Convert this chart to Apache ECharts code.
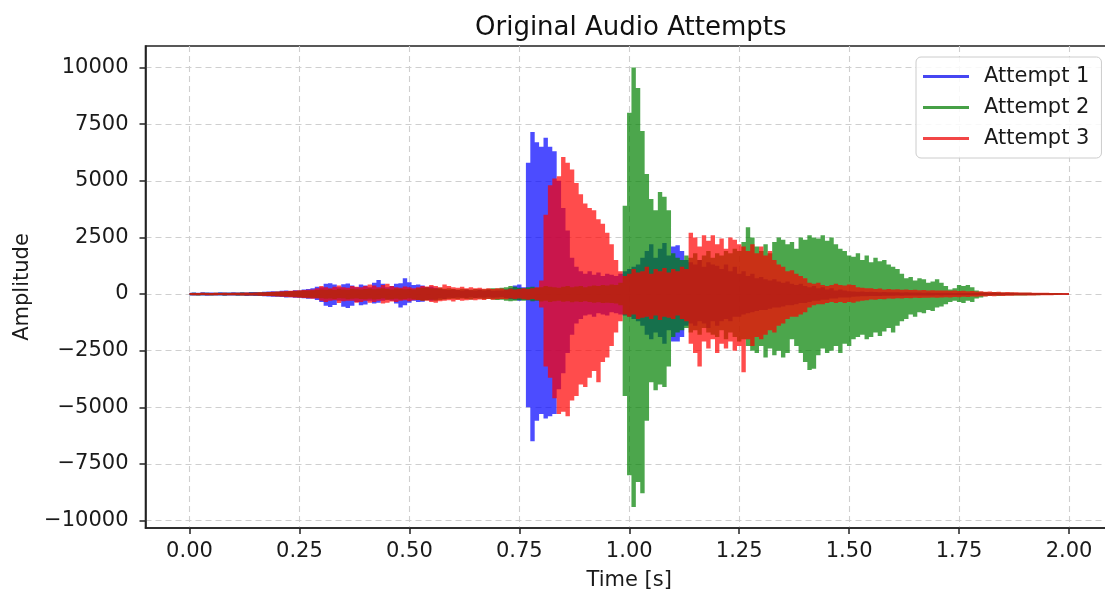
<!DOCTYPE html>
<html>
<head>
<meta charset="utf-8">
<title>Original Audio Attempts</title>
<script src="https://cdn.jsdelivr.net/npm/echarts@6/dist/echarts.min.js"></script>
<style>
  html, body { margin: 0; padding: 0; background: #ffffff; }
  #chart { width: 1105px; height: 594px; }
</style>
</head>
<body>
<div id="chart"></div>
<script>
// Amplitude envelopes sampled every 10 ms from 0.00 s to 2.00 s (201 bins).
const timeStep = 0.01;
const seriesNames = ['Attempt 1', 'Attempt 2', 'Attempt 3'];
const xTicks = [0, 0.25, 0.5, 0.75, 1, 1.25, 1.5, 1.75, 2];
const yTicks = [-10000, -7500, -5000, -2500, 0, 2500, 5000, 7500, 10000];

const attempt1High = [
  60, 70, 60, 75, 65, 70, 60, 80, 70, 65,
  75, 70, 80, 70, 85, 90, 80, 100, 110, 120,
  110, 140, 150, 130, 170, 160, 200, 220, 250, 320,
  300, 450, 480, 420, 300, 430, 460, 380, 300, 420,
  380, 300, 500, 620, 450, 300, 350, 450, 480, 700,
  520, 400, 420, 380, 300, 330, 280, 220, 200, 180,
  200, 180, 150, 200, 170, 160, 200, 150, 180, 140,
  160, 150, 200, 250, 380, 420, 300, 5800, 7150, 6700,
  6500, 6900, 6500, 6300, 5000, 3800, 2800, 1600, 1200, 1000,
  900, 1000, 850, 950, 800, 900, 850, 800, 900, 1000,
  1100, 1200, 1300, 1600, 1900, 2200, 1600, 2000, 2250, 1700,
  2100, 2150, 1900, 1500, 1400, 1300, 1500, 1200, 1400, 1300,
  1250, 1100, 1300, 1000, 1200, 900, 1000, 800, 900, 700,
  750, 650, 600, 650, 550, 500, 550, 450, 400, 450,
  350, 300, 350, 250, 300, 200, 250, 150, 200, 150,
  120, 110, 100, 110, 90, 100, 90, 80, 90, 80,
  75, 80, 70, 75, 70, 65, 70, 60, 65, 60,
  60, 55, 60, 55, 50, 55, 50, 50, 45, 50,
  45, 45, 40, 45, 40, 40, 35, 40, 35, 35,
  35, 30, 35, 30, 30, 30, 25, 30, 25, 25,
  20
];
const attempt1Low = [
  -60, -65, -70, -60, -75, -65, -70, -60, -75, -70,
  -70, -80, -70, -85, -75, -90, -85, -100, -110, -115,
  -120, -130, -150, -140, -160, -170, -190, -210, -200, -260,
  -350, -520, -570, -480, -300, -560, -620, -520, -350, -500,
  -460, -300, -420, -380, -300, -250, -300, -420, -600, -500,
  -380, -300, -350, -340, -260, -300, -250, -200, -220, -160,
  -180, -150, -170, -180, -140, -180, -150, -170, -140, -160,
  -150, -130, -180, -230, -250, -300, -250, -5000, -6500, -5600,
  -5300, -5500, -5400, -5300, -4200, -3500, -2600, -1800, -1300, -1100,
  -950, -900, -1000, -850, -900, -950, -800, -850, -900, -950,
  -1000, -1100, -1200, -1400, -1800, -2000, -1700, -1900, -2200, -1600,
  -2100, -2100, -1900, -1400, -1300, -1400, -1200, -1300, -1500, -1200,
  -1400, -1200, -1100, -1200, -1000, -1000, -900, -850, -800, -750,
  -700, -700, -650, -600, -600, -550, -500, -500, -450, -400,
  -400, -350, -300, -300, -250, -250, -200, -200, -150, -150,
  -150, -120, -110, -100, -100, -90, -90, -85, -80, -80,
  -75, -70, -75, -70, -65, -70, -60, -65, -60, -60,
  -55, -60, -55, -50, -55, -50, -50, -45, -50, -45,
  -45, -40, -45, -40, -40, -35, -40, -35, -35, -35,
  -30, -35, -30, -30, -30, -25, -30, -25, -25, -25,
  -20
];

const attempt2High = [
  50, 55, 50, 60, 55, 50, 60, 55, 60, 55,
  60, 55, 65, 60, 70, 65, 75, 80, 85, 90,
  95, 100, 110, 120, 130, 140, 150, 160, 170, 180,
  200, 190, 210, 180, 220, 200, 190, 230, 210, 200,
  220, 240, 210, 230, 250, 220, 200, 240, 230, 210,
  220, 200, 250, 280, 300, 260, 240, 280, 230, 250,
  220, 200, 230, 210, 190, 220, 200, 210, 230, 250,
  240, 280, 300, 350, 320, 280, 250, 300, 320, 280,
  300, 350, 320, 300, 280, 320, 350, 300, 330, 350,
  300, 340, 380, 350, 400, 380, 420, 400, 500, 3900,
  8000, 10000, 9100, 7200, 5300, 4200, 3700, 4500, 4300, 3700,
  1800, 1600, 1500, 1700, 1600, 1800, 1500, 1700, 1900, 1600,
  1800, 1700, 1900, 1800, 2000, 1900, 2300, 2950, 2500, 2100,
  1900, 2200, 1800, 2300, 2500, 2400, 2200, 2300, 2000, 2500,
  2400, 2600, 2500, 2450, 2600, 2350, 2500, 2200, 2000, 1900,
  1700, 1650, 1800, 1500, 1700, 1400, 1600, 1450, 1500, 1300,
  1200, 1100, 900, 700, 750, 600, 700, 650, 500, 550,
  650, 500, 350, 200, 250, 400, 350, 400, 300, 150,
  100, 90, 80, 85, 75, 70, 65, 70, 60, 60,
  55, 55, 50, 50, 45, 45, 40, 40, 40, 35,
  30
];
const attempt2Low = [
  -50, -55, -60, -50, -55, -60, -55, -50, -60, -55,
  -55, -60, -60, -65, -65, -70, -75, -80, -85, -90,
  -95, -100, -110, -120, -130, -140, -150, -160, -170, -180,
  -190, -210, -200, -220, -190, -200, -230, -210, -200, -220,
  -230, -210, -240, -220, -200, -250, -230, -210, -240, -220,
  -200, -230, -260, -300, -280, -250, -300, -260, -240, -220,
  -210, -230, -200, -220, -240, -200, -210, -230, -220, -240,
  -260, -250, -300, -320, -300, -270, -300, -280, -320, -300,
  -330, -300, -350, -320, -300, -340, -320, -360, -330, -350,
  -320, -350, -380, -360, -400, -380, -400, -420, -500, -4500,
  -8000, -9400, -8300, -8800, -5600, -3900, -4250, -4000, -4100, -3200,
  -1900, -1700, -1600, -1500, -1700, -1600, -1800, -1500, -1700, -1800,
  -1900, -1600, -2000, -1700, -1900, -2100, -2000, -2300, -2500, -2600,
  -2300, -2800, -2400, -2700, -2500, -2800, -2600, -2000, -2300, -2600,
  -3000, -3350, -3300, -2700, -2400, -2600, -2500, -2300, -2600, -2200,
  -2300, -2000, -1900, -1800, -2000, -1900, -1700, -1850, -1650, -1500,
  -1700, -1400, -1200, -1100, -900, -1000, -800, -850, -700, -750,
  -600, -550, -450, -350, -300, -350, -400, -300, -350, -200,
  -150, -100, -90, -80, -85, -75, -70, -65, -70, -60,
  -60, -55, -50, -50, -45, -45, -40, -40, -35, -35,
  -30
];

const attempt3High = [
  45, 50, 45, 55, 50, 45, 55, 50, 55, 50,
  55, 60, 55, 65, 60, 70, 75, 80, 90, 100,
  110, 120, 130, 140, 150, 170, 180, 190, 200, 250,
  350, 300, 250, 320, 380, 300, 280, 350, 320, 300,
  350, 420, 380, 300, 400, 450, 350, 300, 280, 330,
  300, 260, 300, 350, 330, 400, 350, 300, 420, 350,
  300, 280, 320, 260, 300, 250, 280, 230, 250, 220,
  260, 240, 200, 230, 200, 220, 250, 220, 250, 300,
  600, 3500, 4800, 5100, 5200, 6050, 5800, 5500, 4900, 4400,
  4000, 3800, 3700, 3300, 3100, 2700, 2200, 1500, 1000, 800,
  900, 1100, 950, 1000, 1200, 900, 1100, 1000, 1150, 950,
  1100, 1000, 1200, 1100, 2700, 2500, 2100, 2600, 2350, 2600,
  2200, 2450, 2000, 2500, 2400, 2200, 2100, 1900, 2200, 1800,
  2100, 1700, 1900, 1500, 1300, 1200, 1000, 1050, 900, 800,
  700, 500, 450, 500, 400, 350, 400, 450, 400, 380,
  420, 400, 300, 280, 250, 260, 220, 240, 200, 220,
  200, 210, 190, 200, 180, 190, 170, 180, 160, 170,
  150, 160, 150, 140, 150, 130, 140, 120, 130, 110,
  120, 100, 110, 90, 100, 80, 90, 75, 80, 70,
  70, 65, 60, 60, 55, 55, 50, 50, 45, 45,
  40
];
const attempt3Low = [
  -45, -50, -55, -45, -50, -55, -50, -45, -55, -50,
  -55, -55, -60, -60, -65, -70, -75, -85, -90, -100,
  -110, -120, -130, -140, -150, -160, -180, -190, -210, -200,
  -300, -350, -300, -280, -400, -320, -300, -300, -380, -350,
  -300, -380, -350, -300, -420, -380, -330, -350, -300, -280,
  -320, -280, -260, -300, -300, -350, -380, -320, -300, -280,
  -330, -260, -300, -280, -250, -280, -240, -260, -220, -250,
  -230, -220, -230, -200, -220, -200, -230, -250, -220, -280,
  -600, -3200, -3700, -4600, -5300, -5200, -5400, -4700, -4500, -4000,
  -4100, -3700, -3400, -3900, -3000, -2800, -2300, -1700, -1200, -900,
  -1000, -900, -1100, -1050, -1000, -1100, -950, -1150, -1000, -1050,
  -1100, -950, -1100, -1200, -2200, -2600, -3200, -2100, -2400, -2000,
  -2600, -2200, -2400, -2100, -2500, -2300, -3450, -2000, -2300, -1900,
  -2000, -1800, -1600, -1700, -1400, -1300, -1100, -1000, -1000, -900,
  -800, -600, -500, -450, -450, -400, -350, -400, -350, -400,
  -350, -380, -330, -300, -280, -240, -250, -220, -230, -200,
  -210, -190, -200, -180, -190, -170, -180, -160, -170, -150,
  -160, -150, -140, -150, -130, -140, -120, -130, -110, -120,
  -100, -110, -90, -100, -80, -90, -75, -80, -70, -70,
  -65, -60, -60, -55, -55, -50, -50, -45, -45, -40,
  -40
];

const FONT = 'DejaVu Sans';
const INK = '#1a1a1a';
const SPINE = '#222222';

// One filled, stepped envelope polygon per attempt, projected through the grid's axes.
function envelopeSeries(name, color, high, low) {
  const lastT = (high.length - 1) * timeStep;
  const half = 0.5 * timeStep;
  const span = i => [Math.max(0, i * timeStep - half), Math.min(lastT, i * timeStep + half)];
  return {
    type: 'custom',
    name: name,
    coordinateSystem: 'cartesian2d',
    data: high.map((v, i) => [i * timeStep, v, low[i]]),
    encode: { x: 0, y: [1, 2] },
    itemStyle: { color: color, opacity: 0.7 },
    clip: true,
    silent: true,
    renderItem: function (params, api) {
      if (params.dataIndex !== 0) return null;
      const pts = [];
      for (let i = 0; i < high.length; i++) {
        const [t0, t1] = span(i);
        pts.push(api.coord([t0, high[i]]), api.coord([t1, high[i]]));
      }
      for (let i = low.length - 1; i >= 0; i--) {
        const [t0, t1] = span(i);
        pts.push(api.coord([t1, low[i]]), api.coord([t0, low[i]]));
      }
      return {
        type: 'polygon',
        shape: { points: pts },
        style: { fill: color, opacity: 0.7 }
      };
    }
  };
}

const minusSign = v => String(v).replace('-', '\u2212');

const chart = echarts.init(document.getElementById('chart'), null, { renderer: 'canvas' });
chart.setOption({
  animation: false,
  backgroundColor: '#ffffff',
  title: {
    text: 'Original Audio Attempts',
    left: 470,
    top: 10,
    textStyle: { fontFamily: FONT, fontSize: 26, fontWeight: 'normal', color: '#111111' }
  },
  legend: {
    orient: 'vertical',
    left: 916,
    top: 57,
    padding: [9, 12, 9, 7],
    itemGap: 10,
    itemWidth: 46,
    itemHeight: 3,
    icon: 'rect',
    backgroundColor: 'rgba(255,255,255,0.85)',
    borderColor: '#cccccc',
    borderWidth: 1,
    borderRadius: 5,
    textStyle: { fontFamily: FONT, fontSize: 21, color: INK, padding: [0, 0, 0, 10] },
    data: [
      { name: seriesNames[0], itemStyle: { color: '#4646f2', opacity: 1 } },
      { name: seriesNames[1], itemStyle: { color: '#46a046', opacity: 1 } },
      { name: seriesNames[2], itemStyle: { color: '#f24646', opacity: 1 } }
    ]
  },
  grid: {
    left: 145.5,
    width: 967.5,
    top: 46,
    bottom: 66,
    outerBoundsMode: 'none',
    containLabel: false,
    show: true,
    borderColor: SPINE,
    borderWidth: 1.6,
    backgroundColor: 'transparent'
  },
  xAxis: {
    type: 'value',
    min: -0.1,
    max: 2.1,
    name: 'Time [s]',
    nameLocation: 'middle',
    nameGap: 42,
    nameTextStyle: { fontFamily: FONT, fontSize: 21, color: INK },
    axisLine: { show: true, onZero: false, lineStyle: { color: SPINE, width: 1.6 } },
    axisTick: { show: true, customValues: xTicks, length: 6, lineStyle: { color: SPINE, width: 1.5 } },
    axisLabel: {
      customValues: xTicks,
      formatter: v => Number(v).toFixed(2),
      margin: 13,
      fontFamily: FONT, fontSize: 21, color: INK
    },
    splitLine: { show: true, lineStyle: { color: '#cfcfcf', type: [6, 4], width: 1.1 } }
  },
  yAxis: {
    type: 'value',
    min: -10330,
    max: 10950,
    name: 'Amplitude',
    nameLocation: 'middle',
    nameGap: 112,
    nameTextStyle: { fontFamily: FONT, fontSize: 21, color: INK },
    axisLine: { show: true, onZero: false, lineStyle: { color: SPINE, width: 1.6 } },
    axisTick: { show: true, customValues: yTicks, length: 6, lineStyle: { color: SPINE, width: 1.5 } },
    axisLabel: {
      customValues: yTicks,
      formatter: minusSign,
      margin: 17,
      fontFamily: FONT, fontSize: 21, color: INK
    },
    splitLine: { show: true, lineStyle: { color: '#cfcfcf', type: [6, 4], width: 1.1 } }
  },
  series: [
    envelopeSeries(seriesNames[0], '#0000ff', attempt1High, attempt1Low),
    envelopeSeries(seriesNames[1], '#008000', attempt2High, attempt2Low),
    envelopeSeries(seriesNames[2], '#ff0000', attempt3High, attempt3Low)
  ]
});
</script>
</body>
</html>
